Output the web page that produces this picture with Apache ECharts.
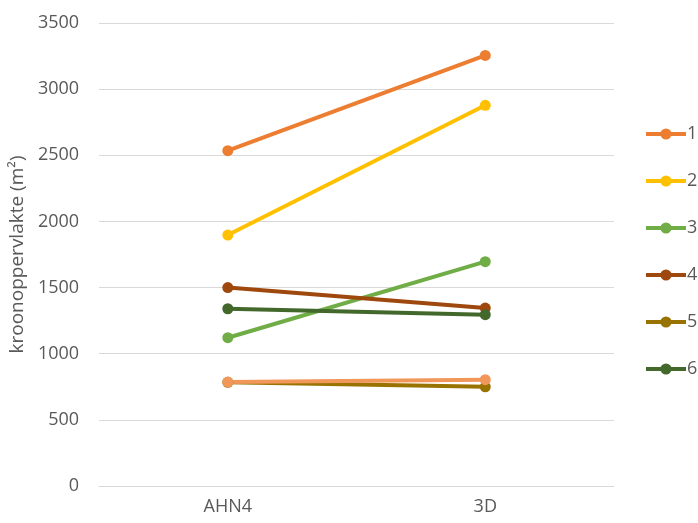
<!DOCTYPE html>
<html>
<head>
<meta charset="utf-8">
<script src="https://cdn.jsdelivr.net/npm/echarts@6/dist/echarts.min.js"></script>
<style>html,body{margin:0;padding:0;background:#fff}#c{width:698px;height:523px}</style>
</head>
<body>
<div id="c"></div>
<script>
const categories = ['AHN4', '3D'];
const seriesNames = ['1', '2', '3', '4', '5', '6', '7'];
const s1 = [2535, 3255];
const s2 = [1897, 2878];
const s3 = [1121, 1696];
const s4 = [1500, 1345];
const s5 = [784, 750];
const s6 = [1340, 1295];
const s7 = [786, 804];
const colors = ['#ED7D31', '#FFC000', '#70AD47', '#9E480E', '#997300', '#43682B', '#F1975A'];
const legendNames = ['1', '2', '3', '4', '5', '6'];
const values = [s1, s2, s3, s4, s5, s6, s7];
const font = 'Open Sans';

const chart = echarts.init(document.getElementById('c'));
chart.setOption({
  animation: false,
  textStyle: { fontFamily: font },
  grid: { left: 98, right: 84, top: 23, bottom: 37 },
  legend: {
    data: legendNames,
    orient: 'vertical',
    left: 644,
    top: 125,
    itemWidth: 40,
    itemHeight: 14,
    itemGap: 29,
    padding: 0,
    lineStyle: { width: 4 },
    textStyle: { fontFamily: font, fontSize: 18, color: '#595959', padding: [0, 0, 0, -4] }
  },
  xAxis: {
    type: 'category',
    data: categories,
    boundaryGap: true,
    axisLine: { lineStyle: { color: '#d9d9d9', width: 1 } },
    axisTick: { show: false },
    axisLabel: { fontFamily: font, fontSize: 18, color: '#595959', margin: 12 }
  },
  yAxis: {
    type: 'value',
    min: 0,
    max: 3500,
    interval: 500,
    name: 'kroonoppervlakte (m²)',
    nameLocation: 'middle',
    nameGap: 68,
    nameTextStyle: { fontFamily: font, fontSize: 19, color: '#595959' },
    axisLine: { show: false },
    axisTick: { show: false },
    axisLabel: { fontFamily: font, fontSize: 18, color: '#595959', margin: 20, formatter: v => String(v) },
    splitLine: { lineStyle: { color: '#d9d9d9', width: 1 } }
  },
  series: values.map((v, i) => ({
    name: seriesNames[i],
    type: 'line',
    data: v,
    color: colors[i],
    symbol: 'circle',
    symbolSize: 11,
    lineStyle: { width: 4, color: colors[i] },
    itemStyle: { color: colors[i] }
  }))
});
</script>
</body>
</html>
